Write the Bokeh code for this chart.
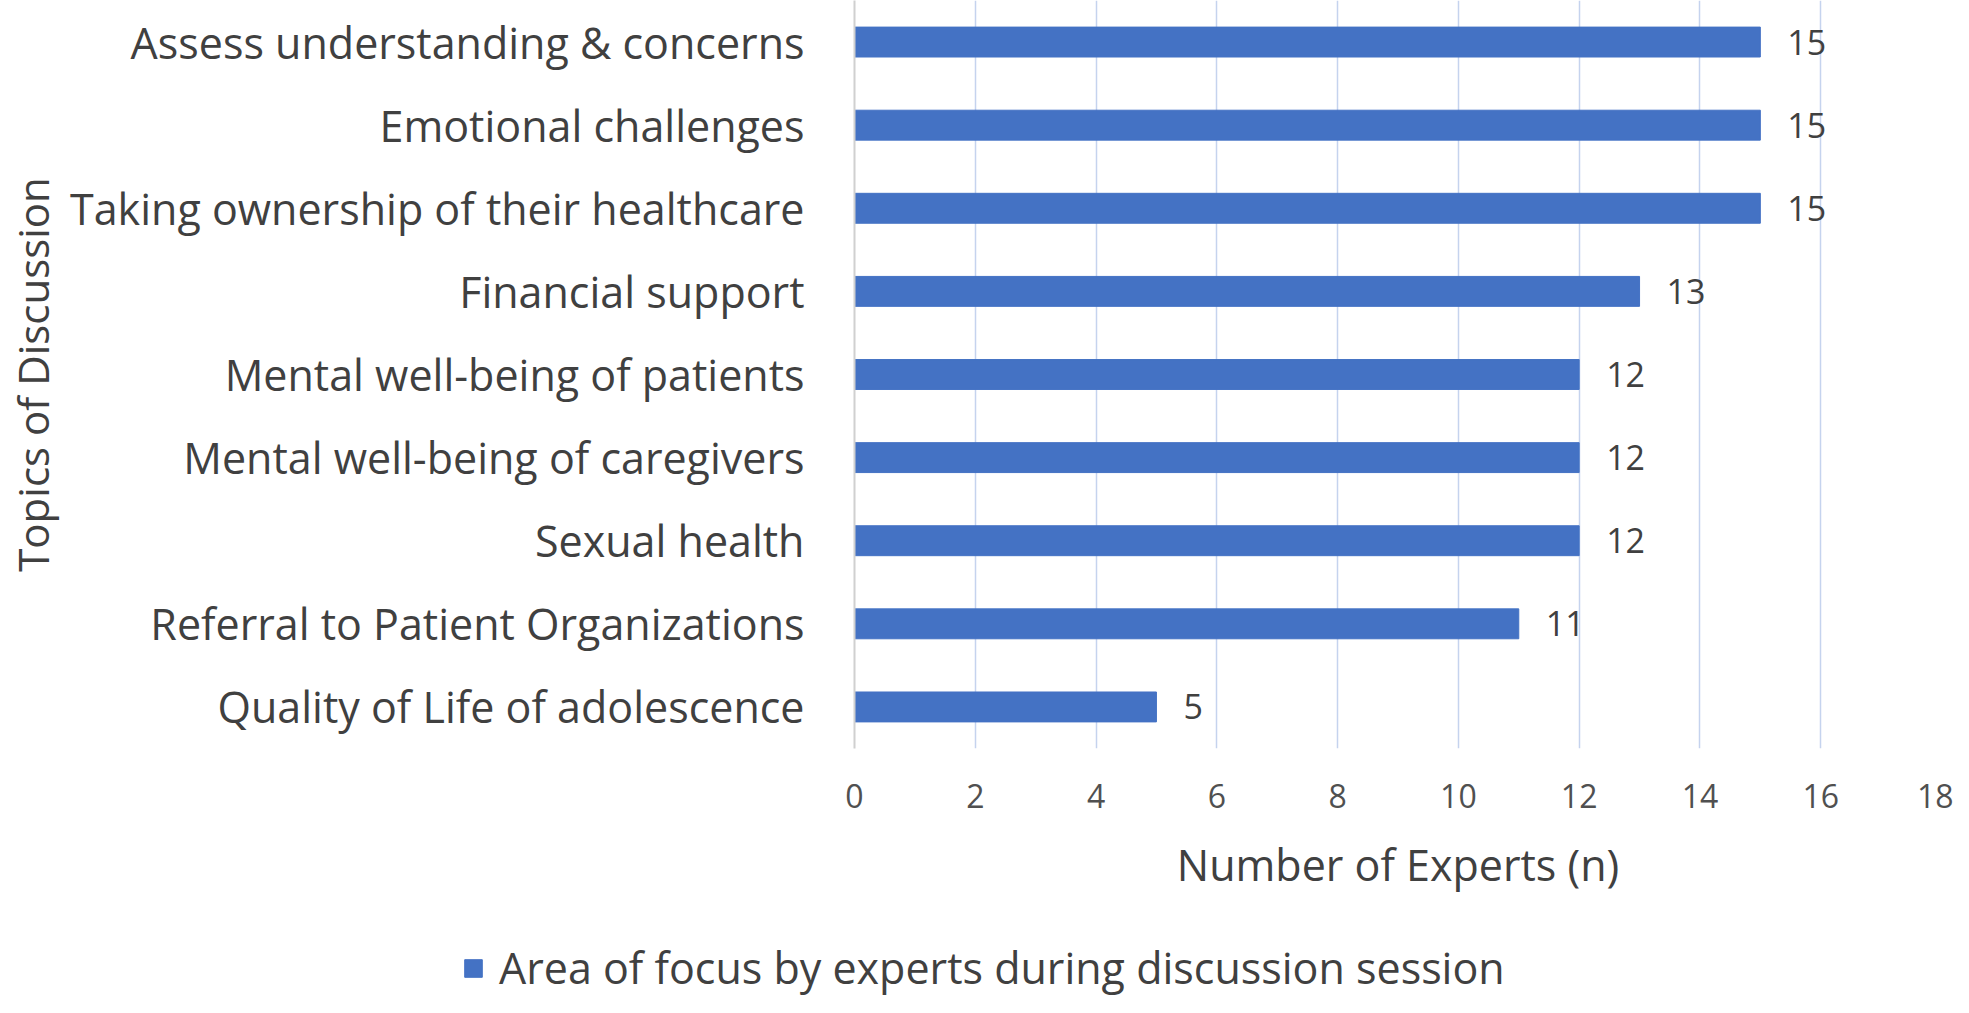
from bokeh.plotting import figure
from bokeh.layouts import column, row
from bokeh.models import FactorRange, Range1d, FixedTicker, ColumnDataSource
from bokeh.core.properties import value
from bokeh.embed import file_html
from bokeh.resources import INLINE

# ---- data ----
topics = [
    "Assess understanding & concerns",
    "Emotional challenges",
    "Taking ownership of their healthcare",
    "Financial support",
    "Mental well-being of patients",
    "Mental well-being of caregivers",
    "Sexual health",
    "Referral to Patient Organizations",
    "Quality of Life of adolescence",
]
experts = [15, 15, 15, 13, 12, 12, 12, 11, 5]
x_ticks = [0, 2, 4, 6, 8, 10, 12, 14, 16, 18]
series_name = "Area of focus by experts during discussion session"
x_title = "Number of Experts (n)"
y_title = "Topics of Discussion"

FONT = "Open Sans"
BAR = "#4472C4"
TXT = "#404040"

src = ColumnDataSource(dict(topic=topics, n=experts, lbl=[str(v) for v in experts]))

p = figure(
    width=1953, height=920,
    y_range=FactorRange(factors=list(reversed(topics))),
    x_range=Range1d(0, 18),
    output_backend="svg", toolbar_location=None, title=None,
    min_border_left=853, min_border_right=12, min_border_top=0, min_border_bottom=172,
)
p.outline_line_color = None
p.background_fill_color = "white"
p.border_fill_color = "white"

p.hbar(y="topic", right="n", left=0, height=0.36, color=BAR, source=src)

p.text(x="n", y="topic", text="lbl", source=src, x_offset=27,
       text_align="left", text_baseline="middle",
       text_font=value(FONT), text_font_size="34px", text_color=TXT)

# x axis
p.xaxis.ticker = FixedTicker(ticks=x_ticks)
p.xaxis.axis_line_color = None
p.xaxis.major_tick_line_color = None
p.xaxis.minor_tick_line_color = None
p.xaxis.major_label_text_font = FONT
p.xaxis.major_label_text_font_size = "32px"
p.xaxis.major_label_text_color = "#505050"
p.xaxis.major_label_standoff = 29
p.xaxis.axis_label = x_title
p.xaxis.axis_label_text_font = FONT
p.xaxis.axis_label_text_font_size = "43px"
p.xaxis.axis_label_text_font_style = "normal"
p.xaxis.axis_label_text_color = TXT
p.xaxis.axis_label_standoff = 24

# y axis
p.yaxis.axis_line_color = "#d0d0d0"
p.yaxis.axis_line_width = 2
p.yaxis.major_tick_line_color = None
p.yaxis.minor_tick_line_color = None
p.yaxis.major_label_text_font = FONT
p.yaxis.major_label_text_font_size = "43px"
p.yaxis.major_label_text_color = TXT
p.yaxis.major_label_standoff = 44
p.yaxis.axis_label = y_title
p.yaxis.axis_label_text_font = FONT
p.yaxis.axis_label_text_font_size = "42px"
p.yaxis.axis_label_text_font_style = "normal"
p.yaxis.axis_label_text_color = TXT
p.yaxis.axis_label_standoff = 6

# grid
p.ygrid.grid_line_color = None
p.xgrid.ticker = FixedTicker(ticks=x_ticks)
p.xgrid.grid_line_color = "#c5d3ee"
p.xgrid.grid_line_width = 1.5

# ---- legend strip below the chart ----
leg = figure(
    width=1953, height=77, x_range=Range1d(0, 1), y_range=Range1d(0, 1),
    output_backend="svg", toolbar_location=None, title=None,
    x_axis_location=None, y_axis_location=None,
    min_border_left=0, min_border_right=0, min_border_top=0, min_border_bottom=0,
)
leg.outline_line_color = None
leg.xgrid.visible = False
leg.ygrid.visible = False
# legend proxy: one bar of the series, kept outside the strip's visible range
leg.hbar(y=[-5], right=[experts[0]], left=[0], height=0.5, color=BAR,
         legend_label=series_name)
lg = leg.legend[0]
lg.location = (462, 0)
lg.orientation = "horizontal"
lg.padding = 0
lg.margin = 0
lg.spacing = 0
lg.border_line_color = None
lg.background_fill_alpha = 0
lg.glyph_width = 22
lg.glyph_height = 22
lg.label_standoff = 15
lg.label_text_font = FONT
lg.label_text_font_size = "43px"
lg.label_text_color = TXT

layout = column(p, row(leg), spacing=0)
open("out.html", "w").write(file_html(layout, INLINE))
